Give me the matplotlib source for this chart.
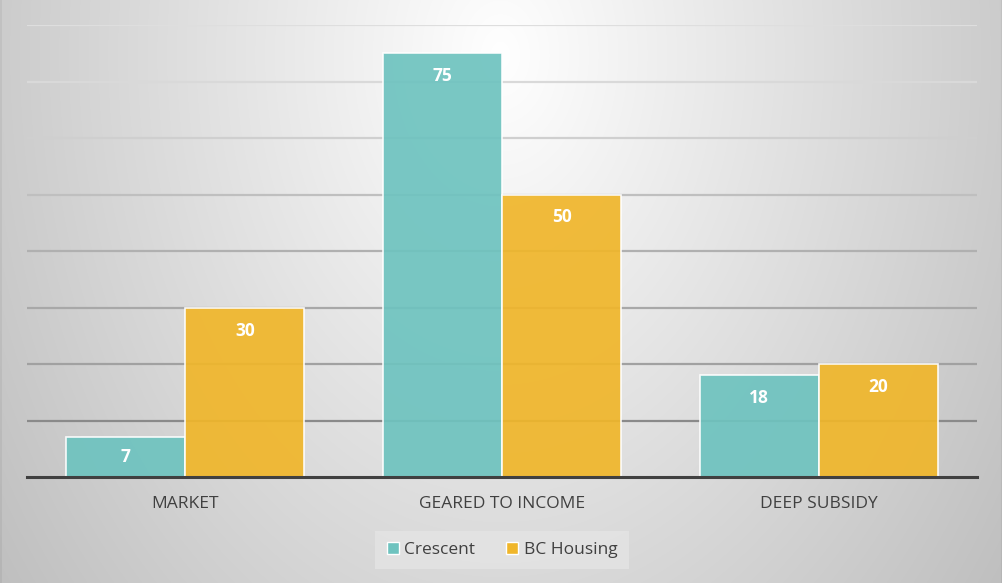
import numpy as np
import matplotlib
matplotlib.use("Agg")
import matplotlib.pyplot as plt
from matplotlib.patches import Patch

categories = ["MARKET", "GEARED TO INCOME", "DEEP SUBSIDY"]
series_names = ["Crescent", "BC Housing"]
crescent = [7, 75, 18]
bc_housing = [30, 50, 20]
yticks = [0, 10, 20, 30, 40, 50, 60, 70, 80]

colors = ["#6ec3bf", "#f0b62a"]
# gridline grey levels, bottom (10) to top (80)
grid_levels = [0.54, 0.63, 0.66, 0.69, 0.75, 0.81, 0.85, 0.87]

W, H = 1003, 583
fig = plt.figure(figsize=(W / 100, H / 100), dpi=100)

# background radial gradient
bg = fig.add_axes([0, 0, 1, 1], zorder=0)
yy, xx = np.mgrid[0:H, 0:W]
d = np.sqrt(((xx - 500) / 500.0) ** 2 + ((yy - 55) / 700.0) ** 2)
v = np.clip(1.0 - 0.2 * d, 0, 1)
v[:, :2] -= 0.04
v[:, -2:] -= 0.04
bg.imshow(np.dstack([v, v, v]), aspect="auto", extent=[0, 1, 0, 1], origin="upper")
bg.set_axis_off()

ax = fig.add_axes([27 / W, 1 - 477 / H, 950 / W, (477 - 25) / H], zorder=1)
ax.patch.set_alpha(0)

x = np.arange(len(categories))
bw = 0.376
ax.set_ylim(0, 80)
ax.set_xlim(-0.5, len(categories) - 0.5)

for t, c in zip(yticks[1:], grid_levels):
    ax.axhline(t, color=(c, c, c), lw=1.6, zorder=1)

for i, (vals, name) in enumerate(zip([crescent, bc_housing], series_names)):
    pos = x + (i - 0.5) * bw
    bars = ax.bar(pos, vals, width=bw, color=colors[i], alpha=0.92,
                  edgecolor=(1, 1, 1, 0.6), linewidth=1.2, zorder=2)
    for b, val in zip(bars, vals):
        hpx = val * 452 / 80
        off = min(23, hpx / 2)
        ax.annotate(str(val), (b.get_x() + b.get_width() / 2, val),
                    xytext=(0, -off), textcoords="offset pixels",
                    ha="center", va="center", color="white",
                    fontsize=12.5, fontweight="bold", family="Open Sans", zorder=3)

for s in ["top", "right", "left"]:
    ax.spines[s].set_visible(False)
ax.spines["bottom"].set_color("#404040")
ax.spines["bottom"].set_linewidth(2.2)
ax.spines["bottom"].set_zorder(4)
ax.set_yticks([])
ax.set_xticks(x)
ax.set_xticklabels(categories, fontsize=12.5, color="#404040", family="Open Sans")
ax.tick_params(axis="x", length=0, pad=14)

handles = [Patch(facecolor=colors[i], edgecolor="white", linewidth=1) for i in range(2)]
leg = fig.legend(handles, series_names, loc="center", bbox_to_anchor=(502 / W, 1 - 550 / H),
                 ncol=2, frameon=True, handlelength=0.7, handleheight=0.7,
                 handletextpad=0.3, columnspacing=1.8, borderpad=0.65,
                 prop={"family": "Open Sans", "size": 12.5})
leg.get_frame().set_facecolor("#e3e3e3")
leg.get_frame().set_edgecolor("none")
leg.get_frame().set_alpha(0.9)
leg.get_frame().set_boxstyle("square", pad=0)
for t in leg.get_texts():
    t.set_color("#404040")

fig.savefig("out.png", dpi=100)
